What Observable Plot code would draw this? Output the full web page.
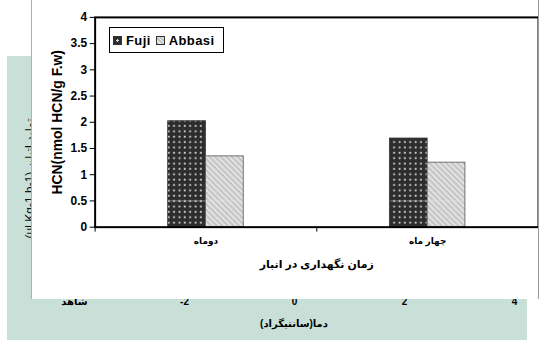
<!DOCTYPE html>
<html><head><meta charset="utf-8">
<script src="https://cdn.jsdelivr.net/npm/d3@7"></script>
<script src="https://cdn.jsdelivr.net/npm/@observablehq/plot@0.6"></script>
<style>
body{margin:0;background:white;}
#stage{position:relative;width:539px;height:349px;overflow:hidden;background:white;font-family:"Liberation Sans","DejaVu Sans",Arial,sans-serif;}
#green{position:absolute;left:7px;top:56px;width:520px;height:284px;background:#c9e0d8;}
#back{position:absolute;left:0;top:0;}
#panel{position:absolute;left:31px;top:0;width:508px;height:299px;box-sizing:border-box;border-left:1px solid #b0b0b0;border-right:1px solid #999;background:white;overflow:hidden;}
#front{position:absolute;left:0;top:0;}
#legend{position:absolute;left:77px;top:27px;width:115px;height:26px;box-sizing:border-box;border:1px solid #000;background:#fff;display:flex;align-items:center;padding-left:3px;font-weight:bold;font-size:13px;letter-spacing:0.4px;}
.item{display:flex;align-items:center;margin-right:5px;}
.sw{width:7px;height:7px;border:1px solid #333;margin-right:4px;}
</style></head>
<body>
<div id="stage">
  <div id="green"></div>
  <div id="back"></div>
  <div id="panel"><div id="front"></div><div id="legend"></div></div>
</div>
<script>
// ---- data ----
const categories = ["دوماه", "چهار ماه"];
const series = ["Fuji", "Abbasi"];
const fujiValues = [2.02, 1.69];
const abbasiValues = [1.35, 1.23];
const yTicks = [0, 0.5, 1, 1.5, 2, 2.5, 3, 3.5, 4];
const yLabel = "HCN(nmol HCN/g F.w)";
const xLabel = "زمان نگهداری در انبار";
// background (partially hidden) chart
const tempTicks = ["شاهد", "-2", "0", "2", "4"];
const tempLabel = "دما(سانتیگراد)";
const hiddenYLabel = "(µl Kg-1 h-1) تولید اتیلن";

const rows = categories.map((c, i) => ({cat: c, fuji: fujiValues[i], abbasi: abbasiValues[i]}));

// ---- background chart ----
const back = Plot.plot({
  width: 539, height: 349,
  marginLeft: 73, marginRight: 25, marginTop: 63, marginBottom: 56,
  style: {background: "transparent", fontFamily: "Liberation Sans, DejaVu Sans, sans-serif", fontWeight: "bold", fontSize: "10px"},
  x: {type: "point", domain: tempTicks, padding: 0},
  marks: [
    Plot.axisX({tickSize: 0, tickPadding: 4, fontSize: 10, label: null}),
    Plot.text([tempLabel], {frameAnchor: "bottom", dy: 33, fontSize: 10}),
    Plot.text([hiddenYLabel], {frameAnchor: "left", textAnchor: "middle", rotate: -90, dx: -43, fontSize: 12, fill: "#111", fontWeight: "normal"})
  ]
});
document.getElementById("back").appendChild(back);

// ---- front chart ----
const W = 509, H = 299, mL = 63, mR = 0, mT = 17, mB = 71;
const plotW = W - mL - mR, plotH = H - mT - mB;
const bw = plotW / categories.length;
const barW = 38;
const font = "Liberation Sans, DejaVu Sans, sans-serif";

const front = Plot.plot({
  width: W, height: H,
  marginLeft: mL, marginRight: mR, marginTop: mT, marginBottom: mB,
  style: {background: "transparent", fontFamily: font, fontWeight: "bold", color: "black", fontSize: "12px"},
  x: {type: "band", domain: categories, padding: 0},
  y: {domain: [0, 4]},
  marks: [
    Plot.barY(rows, {x: "cat", y: "fuji", fill: "url(#fujiPat)", stroke: "#333", strokeWidth: 0.8,
      insetLeft: bw / 2 - barW, insetRight: bw / 2}),
    Plot.barY(rows, {x: "cat", y: "abbasi", fill: "url(#abbasiPat)", stroke: "#555", strokeWidth: 0.8,
      insetLeft: bw / 2, insetRight: bw / 2 - barW}),
    Plot.tickY(rows, {x: "cat", y: () => 0.5, insetLeft: bw / 2 - barW + 1, insetRight: bw / 2 - barW + 1,
      stroke: "#e8e8e8", strokeOpacity: 0.55, strokeWidth: 0.8}),
    Plot.frame({stroke: "black", strokeWidth: 2}),
    Plot.axisY({ticks: yTicks, tickFormat: d => String(d), tickSize: 5, tickPadding: 3, fontSize: 12, label: null}),
    Plot.text([yLabel], {frameAnchor: "left", textAnchor: "middle", rotate: -90, dx: -38, fontSize: 14}),
    Plot.axisX({tickSize: 0, tickPadding: 11, fontSize: 9, label: null}),
    Plot.ruleX(categories, {x: d => d, dx: -bw / 2, insetTop: plotH, insetBottom: -5, stroke: "black", strokeWidth: 1}),
    Plot.text([xLabel], {frameAnchor: "bottom", dy: 41, fontSize: 11})
  ]
});
// patterns
const defs = d3.select(front).insert("defs", ":first-child");
const pf = defs.append("pattern").attr("id", "fujiPat").attr("patternUnits", "userSpaceOnUse")
  .attr("width", 5.4).attr("height", 5.4);
pf.append("rect").attr("width", 5.4).attr("height", 5.4).attr("fill", "#2d2d2d");
pf.append("rect").attr("x", 1.6).attr("y", 1.6).attr("width", 1.8).attr("height", 1.8).attr("fill", "#d8d8d8");
const pa = defs.append("pattern").attr("id", "abbasiPat").attr("patternUnits", "userSpaceOnUse")
  .attr("width", 4).attr("height", 4).attr("patternTransform", "rotate(-45)");
pa.append("rect").attr("width", 4).attr("height", 4).attr("fill", "#c6c6c6");
pa.append("rect").attr("x", 0).attr("y", 0).attr("width", 1.4).attr("height", 4).attr("fill", "#ececec");
document.getElementById("front").appendChild(front);

// legend
const swatchStyle = {
  Fuji: "background:radial-gradient(circle at 50% 50%, #ddd 0 1px, #2d2d2d 1.3px)",
  Abbasi: "background:repeating-linear-gradient(45deg,#c6c6c6 0 2px,#eee 2px 3px)"
};
const legend = document.getElementById("legend");
series.forEach(s => {
  const it = document.createElement("div");
  it.className = "item";
  it.innerHTML = `<span class="sw" style="${swatchStyle[s]}"></span><span>${s}</span>`;
  legend.appendChild(it);
});
</script>
</body></html>
